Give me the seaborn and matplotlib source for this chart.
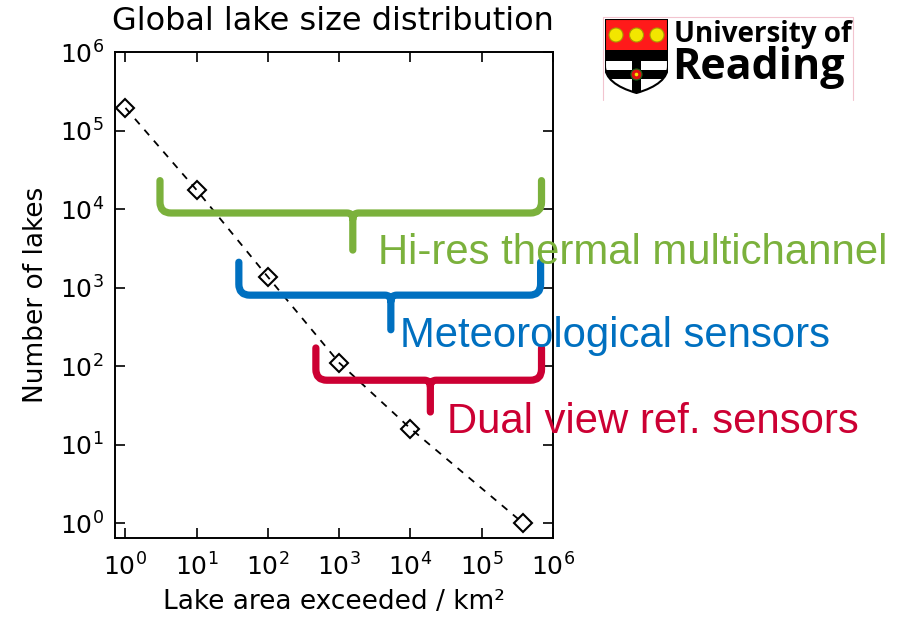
import numpy as np
import pandas as pd
import seaborn as sns
import matplotlib.pyplot as plt
from matplotlib.path import Path
from matplotlib.patches import PathPatch, Rectangle, Circle
from matplotlib.ticker import LogLocator, NullLocator

# lake size distribution
lake_area = [1, 10, 100, 1000, 10000, 3.8e5]
lake_count = [1.94e5, 1.74e4, 1.36e3, 110, 16, 1]

# sensor classes: label, colour, size range covered (km2), brace levels (lake count)
sensor_labels = ["Hi-res thermal multichannel", "Meteorological sensors", "Dual view ref. sensors"]
sensor_colors = ["#7BB13C", "#0070C0", "#CC0033"]
sensor_min = [3.05, 39, 470]
sensor_max = [6.9e5, 6.7e5, 6.9e5]
sensor_mid = [1550, 5300, 1.9e4]
brace_top = [2.3e4, 2100, 170]
brace_bar = [8900, 800, 66]
brace_tip = [3000, 290, 26]
label_x = [3500, 7100, 33000]
label_y = [2000, 174, 14]

df = pd.DataFrame({"area": lake_area, "count": lake_count})

sns.set_style("ticks")
plt.rcParams.update({"text.color": "black", "axes.labelcolor": "black",
                     "xtick.color": "black", "ytick.color": "black"})
fig = plt.figure(figsize=(9.11, 6.18), dpi=100)
ax = fig.add_axes([115 / 911, 1 - 538 / 618, (553 - 115) / 911, (538 - 52) / 618])

sns.lineplot(data=df, x="area", y="count", ax=ax, color="black", linestyle=(0, (4, 4)),
             linewidth=1.3, marker="D", markersize=9.5, markerfacecolor="none",
             markeredgecolor="black", markeredgewidth=1.5)

ax.set_xscale("log")
ax.set_yscale("log")
xlo, xhi = 10 ** -0.147, 1e6
ylo, yhi = 10 ** -0.19, 1e6
ax.set_xlim(xlo, xhi)
ax.set_ylim(ylo, yhi)
ax.xaxis.set_major_locator(LogLocator(base=10, numticks=10))
ax.yaxis.set_major_locator(LogLocator(base=10, numticks=10))
ax.xaxis.set_minor_locator(NullLocator())
ax.yaxis.set_minor_locator(NullLocator())
ax.tick_params(which="major", direction="in", length=7, width=1.2, top=True, right=True,
               labelsize=18, color="black")
ax.tick_params(axis="x", pad=11)
ax.tick_params(axis="y", pad=8)
for s in ax.spines.values():
    s.set_linewidth(1.4)
    s.set_color("black")
ax.set_xlabel("Lake area exceeded / km²", fontsize=19, labelpad=6)
ax.set_ylabel("Number of lakes", fontsize=19, labelpad=8)
fig.text(333 / 911, 1 - 22 / 618, "Global lake size distribution", fontsize=23,
         ha="center", va="center")

# braces, drawn in axes fraction (log space is linear there)
lx0, lx1 = np.log10(xlo), np.log10(xhi)
ly0, ly1 = np.log10(ylo), np.log10(yhi)


def fx(v):
    return (np.log10(v) - lx0) / (lx1 - lx0)


def fy(v):
    return (np.log10(v) - ly0) / (ly1 - ly0)


rx, ry = 11 / 438, 11 / 486
mx, my = 6 / 438, 6 / 486
M, L, C = Path.MOVETO, Path.LINETO, Path.CURVE3
for i in range(len(sensor_labels)):
    xl, xr, xm = fx(sensor_min[i]), fx(sensor_max[i]), fx(sensor_mid[i])
    yt, yb, yp = fy(brace_top[i]), fy(brace_bar[i]), fy(brace_tip[i])
    verts = [(xl, yt), (xl, yb + ry), (xl, yb), (xl + rx, yb), (xm - mx, yb), (xm, yb),
             (xm, yb - my), (xm, yp),
             (xm, yb - my), (xm, yb), (xm + mx, yb), (xr - rx, yb), (xr, yb), (xr, yb + ry),
             (xr, yt)]
    codes = [M, L, C, C, L, C, C, L, M, C, C, L, C, C, L]
    ax.add_patch(PathPatch(Path(verts, codes), transform=ax.transAxes, fill=False,
                           lw=5.2, edgecolor=sensor_colors[i], capstyle="round",
                           joinstyle="round", clip_on=False, zorder=5))
    ax.text(label_x[i], label_y[i], sensor_labels[i], color=sensor_colors[i], fontsize=30.2,
            family="Liberation Sans", ha="left", va="baseline", zorder=6, clip_on=False)

# University of Reading logo
fig.add_artist(plt.Line2D([603 / 911, 603 / 911, 853 / 911, 853 / 911],
                          [1 - 100 / 618, 1 - 17 / 618, 1 - 17 / 618, 1 - 100 / 618],
                          color="#F2C4CF", lw=0.8))
lax = fig.add_axes([605 / 911, 1 - 94 / 618, 63 / 911, 75 / 618])
lax.set_xlim(0, 63)
lax.set_ylim(75, 0)
lax.axis("off")
shield = Path([(0, 0), (63, 0), (63, 47), (63, 65), (31.5, 74), (0, 65), (0, 47), (0, 0)],
              [M, L, L, C, C, C, C, L])
clip = PathPatch(shield, transform=lax.transData, facecolor="none", edgecolor="none")
lax.add_patch(clip)
parts = [
    Rectangle((0, 0), 63, 31, facecolor="#FF1A1A", edgecolor="none"),
    Rectangle((0, 31), 63, 11, facecolor="black", edgecolor="none"),
    Rectangle((0, 42), 63, 35, facecolor="white", edgecolor="none"),
    Rectangle((27, 42), 9, 35, facecolor="black", edgecolor="none"),
    Rectangle((0, 51), 63, 9, facecolor="black", edgecolor="none"),
]
for p in parts:
    lax.add_patch(p)
    p.set_clip_path(clip)
for cx in [11, 31.5, 52]:
    lax.add_patch(Circle((cx, 16), 7, facecolor="#F2E600", edgecolor="#A89A00", lw=0.8))
lax.add_patch(Circle((31.5, 55.5), 5.5, facecolor="#E01010", edgecolor="#1a6a1a", lw=0.8))
lax.add_patch(Circle((31.5, 55.5), 1.8, facecolor="#F2E600", edgecolor="none"))
lax.add_patch(PathPatch(shield, facecolor="none", edgecolor="black", lw=1.5))

fig.text(674 / 911, 1 - 42 / 618, "University of", fontsize=20, fontweight="bold",
         family="Open Sans", ha="left", va="baseline")
fig.text(672 / 911, 1 - 79 / 618, "Reading", fontsize=31, fontweight="bold",
         family="Open Sans", ha="left", va="baseline")

fig.savefig("out.png", dpi=100)
